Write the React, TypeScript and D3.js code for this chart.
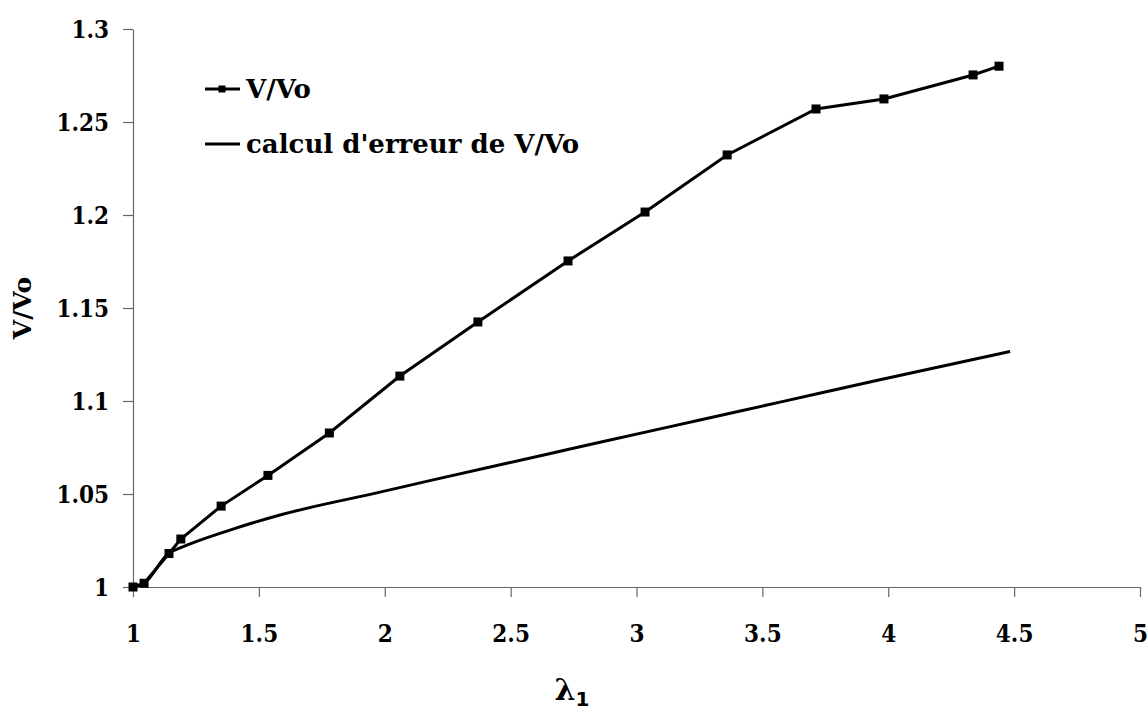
import React, { useEffect, useRef } from 'react';
import * as d3 from 'd3';

// measured series: lambda_1 vs V/Vo
const lambdaMeasured = [1.0, 1.044, 1.143, 1.19, 1.35, 1.536, 1.78, 2.06, 2.37, 2.728, 3.034, 3.36, 3.713, 3.983, 4.337, 4.44];
const ratioMeasured = [1.0, 1.002, 1.018, 1.0258, 1.0435, 1.06, 1.0828, 1.1134, 1.1425, 1.1753, 1.2016, 1.2323, 1.257, 1.2624, 1.2753, 1.28];

// error calculation curve
const lambdaError = [1.0, 1.044, 1.143, 1.187, 1.385, 1.584, 1.981, 2.192, 2.645, 2.855, 3.252, 3.57, 3.967, 4.484];
const ratioError = [1.0, 1.002, 1.0183, 1.021, 1.0306, 1.0387, 1.051, 1.0576, 1.0714, 1.0778, 1.0898, 1.0994, 1.1114, 1.1266];

const xTicks = [1, 1.5, 2, 2.5, 3, 3.5, 4, 4.5, 5];
const yTicks = [1, 1.05, 1.1, 1.15, 1.2, 1.25, 1.3];
const legendLabels = ['V/Vo', "calcul d'erreur de V/Vo"];

const W = 1148;
const H = 720;
const FONT = 'DejaVu Serif';
const TICK_FONT = 'DejaVu Serif Condensed, DejaVu Serif';

export default function App() {
  const svgRef = useRef<SVGSVGElement>(null);

  useEffect(() => {
    const svg = d3.select(svgRef.current);
    svg.selectAll('*').remove();

    const x = d3.scaleLinear().domain([1, 5]).range([133, 1140]);
    const y = d3.scaleLinear().domain([1, 1.3]).range([587, 29]);

    // --- axes ---
    const xAxis = svg.append('g')
      .attr('transform', `translate(0,${y(1)})`)
      .call(d3.axisBottom(x).tickValues(xTicks).tickSize(10).tickSizeOuter(0).tickFormat(d => String(d)));
    const yAxis = svg.append('g')
      .attr('transform', `translate(${x(1)},0)`)
      .call(d3.axisLeft(y).tickValues(yTicks).tickSize(10).tickSizeOuter(0).tickFormat(d => String(d)));

    [xAxis, yAxis].forEach(ax => {
      ax.attr('font-family', TICK_FONT).attr('font-size', 24).attr('font-weight', 'bold');
      ax.selectAll('path, line').attr('stroke', '#666').attr('stroke-width', 1.2);
      ax.selectAll('text').attr('fill', '#000');
    });
    xAxis.selectAll('text').attr('dy', null).attr('y', 55);
    yAxis.selectAll('text').attr('x', -24).attr('dy', '0.36em');

    // --- series ---
    const measured = lambdaMeasured.map((l, i) => [l, ratioMeasured[i]] as [number, number]);
    const errorPts = lambdaError.map((l, i) => [l, ratioError[i]] as [number, number]);

    svg.append('path')
      .datum(errorPts)
      .attr('fill', 'none')
      .attr('stroke', '#000')
      .attr('stroke-width', 3)
      .attr('d', d3.line().x(d => x(d[0])).y(d => y(d[1])).curve(d3.curveMonotoneX));

    svg.append('path')
      .datum(measured)
      .attr('fill', 'none')
      .attr('stroke', '#000')
      .attr('stroke-width', 3)
      .attr('d', d3.line().x(d => x(d[0])).y(d => y(d[1])));

    svg.append('g').selectAll('rect')
      .data(measured)
      .join('rect')
      .attr('x', d => x(d[0]) - 4.5)
      .attr('y', d => y(d[1]) - 4.5)
      .attr('width', 9)
      .attr('height', 9)
      .attr('fill', '#000');

    // --- legend ---
    const legend = svg.append('g')
      .attr('font-family', FONT).attr('font-weight', 'bold').attr('font-size', 26);
    legendLabels.forEach((lab, i) => {
      const ly = 89 + i * 55;
      legend.append('line')
        .attr('x1', 205).attr('x2', 240)
        .attr('y1', ly).attr('y2', ly)
        .attr('stroke', '#000').attr('stroke-width', 3);
      if (i === 0) {
        legend.append('rect')
          .attr('x', 218.5).attr('y', ly - 3.5)
          .attr('width', 7).attr('height', 7).attr('fill', '#000');
      }
      legend.append('text')
        .attr('x', 246).attr('y', ly)
        .attr('dy', '0.36em')
        .text(lab);
    });

    // --- axis titles ---
    const xt = svg.append('text')
      .attr('x', 572).attr('y', 700)
      .attr('text-anchor', 'middle')
      .attr('font-family', FONT)
      .attr('font-weight', 'bold')
      .attr('font-size', 30);
    xt.append('tspan').text('λ');
    xt.append('tspan').attr('dy', 6).attr('font-size', 20).attr('font-family', 'DejaVu Sans').text('1');

    svg.append('text')
      .attr('transform', `translate(31,${(y(1) + y(1.3)) / 2}) rotate(-90)`)
      .attr('text-anchor', 'middle')
      .attr('font-family', FONT)
      .attr('font-weight', 'bold')
      .attr('font-size', 25)
      .text('V/Vo');
  }, []);

  return (
    <svg ref={svgRef} width={W} height={H}
      style={{ position: 'absolute', left: 0, top: 0, background: '#fff' }} />
  );
}
